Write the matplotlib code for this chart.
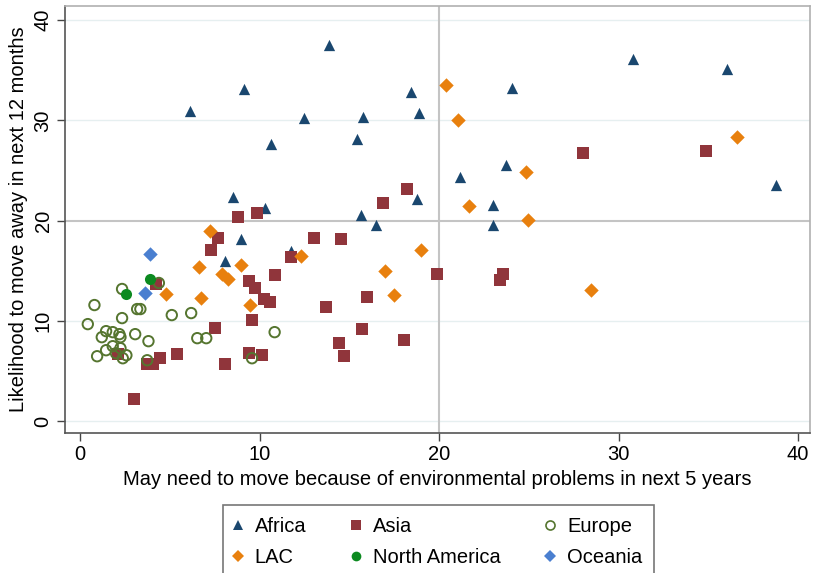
import matplotlib
matplotlib.use("Agg")
import matplotlib.pyplot as plt
from matplotlib.lines import Line2D

plt.rcParams['font.family'] = ['Liberation Sans', 'DejaVu Sans']

africa_x = [13.87, 9.13, 6.15, 12.47, 15.78, 18.46, 18.87, 15.43, 10.65, 21.15, 8.53, 18.8, 10.32,
            15.63, 16.49, 8.94, 8.05, 11.73, 30.8, 36.03, 24.09, 23.74, 38.76, 23.03, 23.0]
africa_y = [37.5, 33.1, 30.9, 30.2, 30.3, 32.8, 30.7, 28.1, 27.6, 24.4, 22.4, 22.2, 21.3,
            20.6, 19.6, 18.2, 16.0, 17.0, 36.1, 35.1, 33.2, 25.6, 23.6, 21.6, 19.6]

asia_x = [18.24, 16.87, 8.79, 9.87, 7.66, 13.04, 14.54, 7.31, 11.77, 10.84, 9.41, 9.72, 10.24,
          10.61, 13.68, 15.99, 9.57, 7.49, 15.71, 18.05, 14.43, 9.41, 10.13, 14.71, 8.1, 2.1,
          3.72, 4.05, 4.48, 5.39, 3.03, 4.24, 28.01, 34.86, 19.91, 23.59, 23.41]
asia_y = [23.2, 21.8, 20.4, 20.8, 18.3, 18.3, 18.2, 17.1, 16.4, 14.6, 14.0, 13.3, 12.2,
          11.9, 11.4, 12.4, 10.1, 9.3, 9.2, 8.1, 7.8, 6.8, 6.6, 6.5, 5.7, 6.7,
          5.7, 5.7, 6.3, 6.7, 2.2, 13.7, 26.8, 27.0, 14.7, 14.7, 14.1]

europe_x = [10.84, 7.03, 9.58, 2.34, 4.39, 0.8, 3.18, 3.36, 2.34, 0.43, 5.11, 6.19, 1.45, 1.82,
            1.21, 2.19, 2.25, 3.07, 3.81, 6.53, 1.45, 1.82, 2.25, 2.0, 0.95, 2.38, 2.58, 3.74]
europe_y = [8.9, 8.3, 6.3, 13.2, 13.8, 11.6, 11.2, 11.2, 10.3, 9.7, 10.6, 10.8, 9.0, 8.9,
            8.4, 8.7, 8.4, 8.7, 8.0, 8.3, 7.1, 7.5, 7.3, 6.8, 6.5, 6.3, 6.6, 6.1]

lac_x = [20.4, 21.05, 21.65, 7.25, 36.6, 24.82, 24.97, 28.48, 19.0, 12.33, 8.98, 7.9, 8.24,
         6.65, 17.01, 17.5, 9.48, 6.73, 4.8]
lac_y = [33.5, 30.0, 21.5, 19.0, 28.3, 24.9, 20.1, 13.1, 17.1, 16.5, 15.6, 14.7, 14.2,
         15.4, 15.0, 12.6, 11.6, 12.3, 12.7]

namerica_x = [3.9, 2.55]
namerica_y = [14.2, 12.7]

oceania_x = [3.92, 3.64]
oceania_y = [16.7, 12.8]

x_ticks = [0, 10, 20, 30, 40]
y_ticks = [0, 10, 20, 30, 40]

fig = plt.figure(figsize=(8.13, 5.73), dpi=100)
ax = fig.add_axes([65/813, 1-433/573, 745/813, 427/573])

for t in y_ticks:
    if t != 20:
        ax.axhline(t, color='#e6eff0', lw=1.0, zorder=0)
ax.axhline(20, color='#c4c4c4', lw=1.5, zorder=0)
ax.axvline(20, color='#c4c4c4', lw=1.5, zorder=0)

ax.scatter(africa_x, africa_y, marker='^', s=66, color='#1a476f', linewidths=0, zorder=3)
ax.scatter(asia_x, asia_y, marker='s', s=66, color='#90353b', linewidths=0, zorder=3)
ax.scatter(europe_x, europe_y, marker='o', s=56, facecolors='none', edgecolors='#55752f',
           linewidths=1.4, zorder=3)
ax.scatter(lac_x, lac_y, marker='D', s=54, color='#e8800e', linewidths=0, zorder=3)
ax.scatter(namerica_x, namerica_y, marker='o', s=64, color='#0c8a20', linewidths=0, zorder=4)
ax.scatter(oceania_x, oceania_y, marker='D', s=54, color='#4a7fd0', linewidths=0, zorder=4)

fs = 14.5
ax.set_xlim(-0.84, 40.67)
ax.set_ylim(-1.15, 41.4)
ax.set_xticks(x_ticks)
ax.set_yticks(y_ticks)
ax.tick_params(axis='both', direction='out', length=6, width=1, color='#444444',
               labelsize=fs, pad=3)
for lab in ax.get_yticklabels():
    lab.set_rotation(90)
    lab.set_va('center')

ax.spines['left'].set_color('#555555')
ax.spines['bottom'].set_color('#555555')
ax.spines['top'].set_color('#b0b0b0')
ax.spines['right'].set_color('#b0b0b0')
for s in ax.spines.values():
    s.set_linewidth(1.2)

ax.set_xlabel('May need to move because of environmental problems in next 5 years',
              fontsize=fs, labelpad=4)
ax.set_ylabel('Likelihood to move away in next 12 months', fontsize=fs, labelpad=4)

handles = [
    Line2D([], [], ls='none', marker='^', ms=7, color='#1a476f', markeredgewidth=0),
    Line2D([], [], ls='none', marker='D', ms=6.5, color='#e8800e', markeredgewidth=0),
    Line2D([], [], ls='none', marker='s', ms=7, color='#90353b', markeredgewidth=0),
    Line2D([], [], ls='none', marker='o', ms=7, color='#0c8a20', markeredgewidth=0),
    Line2D([], [], ls='none', marker='o', ms=6.5, markerfacecolor='none',
           markeredgecolor='#55752f', markeredgewidth=1.2),
    Line2D([], [], ls='none', marker='D', ms=6.5, color='#4a7fd0', markeredgewidth=0),
]
labels = ['Africa', 'LAC', 'Asia', 'North America', 'Europe', 'Oceania']
leg = fig.legend(handles, labels, ncol=3, loc='upper center',
                 bbox_to_anchor=(438.5/813, 1-505/573), borderaxespad=0,
                 frameon=True, fancybox=False, edgecolor='#555555', fontsize=fs,
                 handlelength=0.3, handletextpad=0.7, columnspacing=2.3, labelspacing=0.6,
                 borderpad=0.6)
leg.get_frame().set_linewidth(1.2)

fig.savefig('out.png', dpi=100)
